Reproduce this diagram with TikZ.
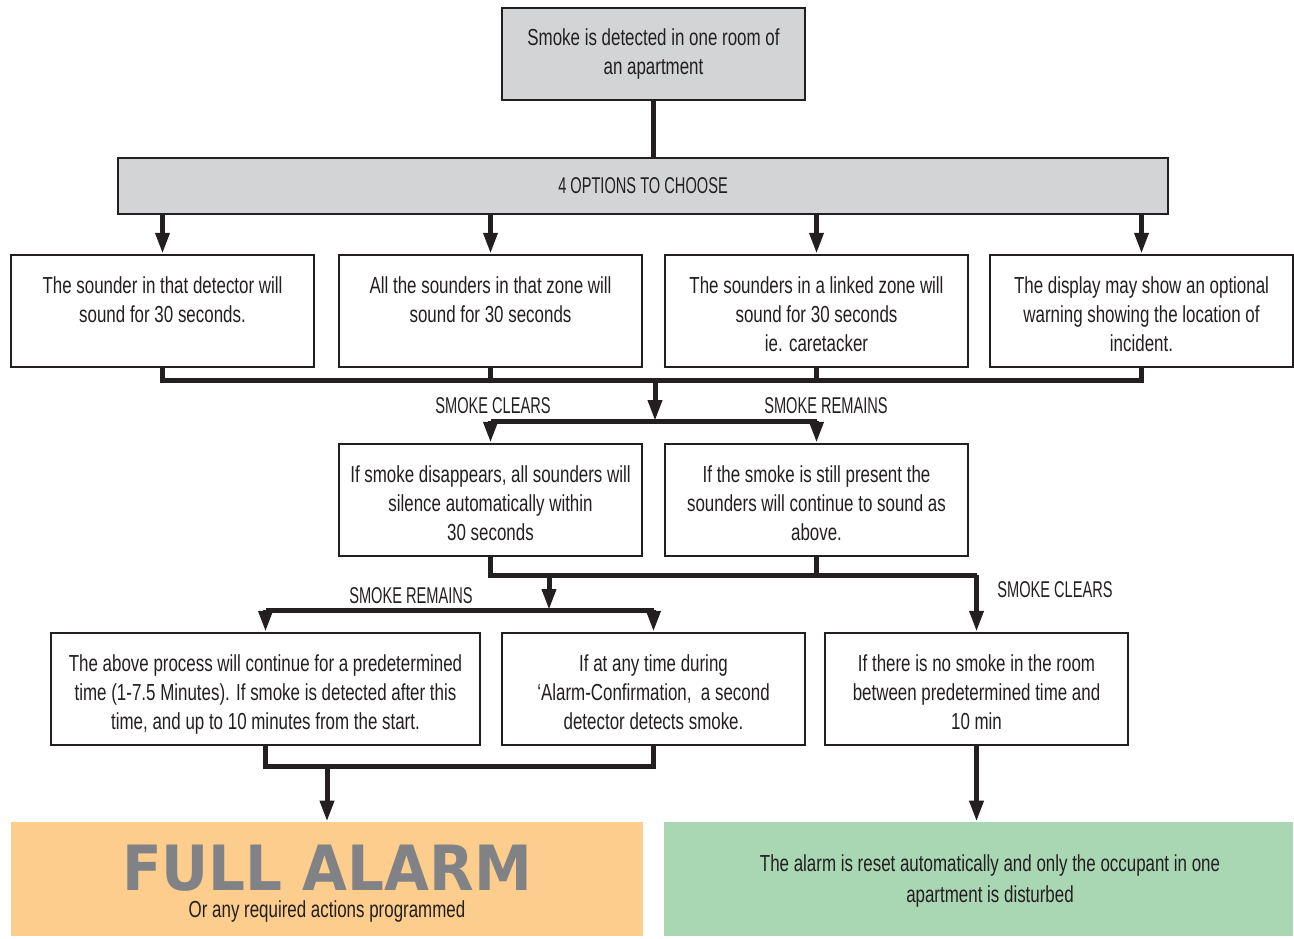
\documentclass[tikz,border=0pt]{standalone}
\usepackage{fontspec}
\setmainfont{Liberation Sans}[FakeStretch=0.73]
\newfontfamily\capsfont{Liberation Sans}[FakeStretch=0.64]
\newfontfamily\bigfont{DejaVu Sans}[FakeStretch=0.93]
\usetikzlibrary{arrows.meta}
\definecolor{boxgrey}{HTML}{D3D4D6}
\definecolor{alarmorange}{HTML}{FCCD8C}
\definecolor{resetgreen}{HTML}{A9D7B3}
\definecolor{alarmtext}{HTML}{808285}
\definecolor{ink}{HTML}{231F20}
\newcommand{\bt}[3]{\parbox[c][#2][t]{#1}{\centering\vspace*{0.36cm}\strut #3}}
\begin{document}
\begin{tikzpicture}[x=0.02cm,y=-0.02cm,
  every node/.style={font=\fontsize{13.2}{16.5}\selectfont, text=ink},
  stepbox/.style={draw=ink, line width=0.05cm, fill=white, inner sep=0pt},
  greybox/.style={stepbox, fill=boxgrey},
  conn/.style={draw=ink, line width=0.1cm},
  arr/.style={conn, -{Triangle[length=0.42cm,width=0.27cm]}},
  lbl/.style={inner sep=0pt},
  capslbl/.style={lbl, font=\capsfont\fontsize{13}{16}\selectfont}
]
\useasboundingbox (0,0) rectangle (1294,938);

% boxes
\node[greybox, minimum width=6.06cm, minimum height=1.84cm, align=center] (top) at (653.5,54)
  {Smoke is detected in one room of\\an apartment};
\node[greybox, minimum width=21cm, minimum height=1.12cm, font=\capsfont\fontsize{13}{16}\selectfont] (opt) at (643,186) {4 OPTIONS TO CHOOSE};

\node[stepbox] (b1) at (162.5,311) {\bt{6.06cm}{2.24cm}{The sounder in that detector will\\sound for 30 seconds.}};
\node[stepbox] (b2) at (490.5,311) {\bt{6.06cm}{2.24cm}{All the sounders in that zone will\\sound for 30 seconds}};
\node[stepbox] (b3) at (816.5,311) {\bt{6.06cm}{2.24cm}{The sounders in a linked zone will\\sound for 30 seconds\\ie. caretacker}};
\node[stepbox] (b4) at (1141.5,311) {\bt{6.06cm}{2.24cm}{The display may show an optional\\warning showing the location of\\incident.}};

\node[stepbox] (b5) at (490.5,500) {\bt{6.06cm}{2.24cm}{If smoke disappears, all sounders will\\silence automatically within\\30 seconds}};
\node[stepbox] (b6) at (816.5,500) {\bt{6.06cm}{2.24cm}{If the smoke is still present the\\sounders will continue to sound as\\above.}};

\node[stepbox] (b7) at (265.5,689) {\bt{8.58cm}{2.24cm}{The above process will continue for a predetermined\\time (1-7.5 Minutes). If smoke is detected after this\\time, and up to 10 minutes from the start.}};
\node[stepbox] (b8) at (653.5,689) {\bt{6.06cm}{2.24cm}{If at any time during\\‘Alarm-Confirmation,\ \ a second\\detector detects smoke.}};
\node[stepbox] (b9) at (976.5,689) {\bt{6.06cm}{2.24cm}{If there is no smoke in the room\\between predetermined time and\\10 min}};

\node[fill=alarmorange, minimum width=12.64cm, minimum height=2.28cm, inner sep=0pt] (full) at (327,879) {};
\node[lbl, text=alarmtext, text depth=0pt, font=\bigfont\bfseries\fontsize{35.5}{35.5}\selectfont] (fulltxt) at (327,868) {FULL ALARM};
\node[lbl] (fullsub) at (327,911) {Or any required actions programmed};

\node[fill=resetgreen, minimum width=12.58cm, minimum height=2.28cm, inner sep=0pt] (reset) at (978.5,879) {};
\node[lbl, align=center, font=\fontsize{13.2}{17.4}\selectfont] (resettxt) at (990,881)
  {The alarm is reset automatically and only the occupant in one\\apartment is disturbed};

% labels
\node[capslbl] (lc1) at (493,406) {SMOKE CLEARS};
\node[capslbl] (lr1) at (826,406) {SMOKE REMAINS};
\node[capslbl] (lr2) at (411,596) {SMOKE REMAINS};
\node[capslbl] (lc2) at (1055,590) {SMOKE CLEARS};

% coordinates
\coordinate (bus1) at (655,380);
\coordinate (bus2) at (655,421);
\coordinate (bus3) at (549,575);
\coordinate (bus4) at (549,610);
\coordinate (bus5) at (327,766);

% connectors
\draw[conn] (top.south) -- (top.south |- opt.north);
\foreach \b in {b1,b2,b3,b4}{
  \draw[arr] (\b.north |- opt.south) -- (\b.north);
}
\draw[conn] (b1.south) -- (b1.south |- bus1) -- (b4.south |- bus1) -- (b4.south);
\draw[conn] (b2.south) -- (b2.south |- bus1);
\draw[conn] (b3.south) -- (b3.south |- bus1);
\draw[arr] (bus1) -- (bus2);
\draw[conn] (b5.north |- bus2) -- (b6.north |- bus2);
\draw[arr] (b5.north |- bus2) -- (b5.north);
\draw[arr] (b6.north |- bus2) -- (b6.north);

\draw[conn] (b5.south) -- (b5.south |- bus3) -- (b9.north |- bus3);
\draw[conn] (b6.south) -- (b6.south |- bus3);
\draw[arr] (b9.north |- bus3) -- (b9.north);
\draw[arr] (bus3) -- (bus4);
\draw[conn] (b7.north |- bus4) -- (b8.north |- bus4);
\draw[arr] (b7.north |- bus4) -- (b7.north);
\draw[arr] (b8.north |- bus4) -- (b8.north);

\draw[conn] (b7.south) -- (b7.south |- bus5) -- (b8.south |- bus5) -- (b8.south);
\draw[arr] (bus5) -- (full.north);
\draw[arr] (b9.south) -- (b9.south |- reset.north);
\end{tikzpicture}
\end{document}
